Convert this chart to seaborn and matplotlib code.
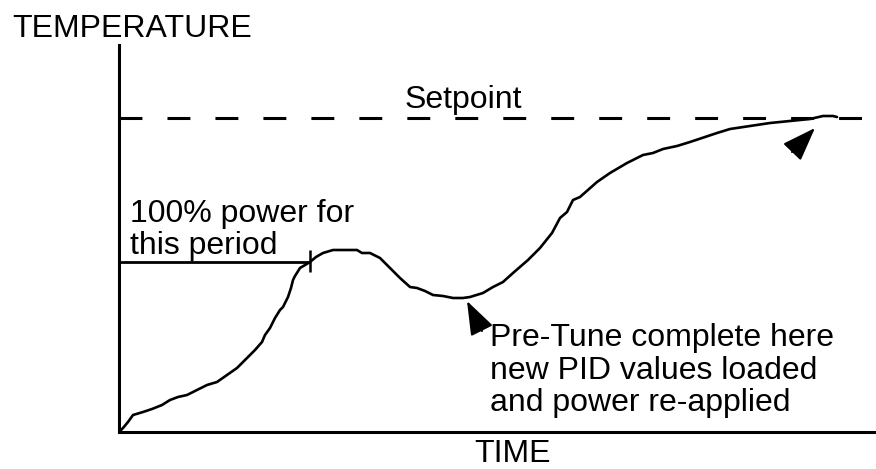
import matplotlib
matplotlib.use('Agg')
import matplotlib.pyplot as plt
import seaborn as sns
import pandas as pd

sns.set_style('white')
plt.rcParams['font.family'] = ['Liberation Sans', 'DejaVu Sans']
plt.rcParams['text.color'] = 'black'

# hand drawn temperature curve
time = [0, 4, 9, 14, 24, 33, 43, 51, 59, 68, 78, 88, 98, 108, 118, 128, 136, 143, 146, 151,
        156, 161, 164, 169, 172, 174, 176, 181, 186, 191, 197, 204, 214, 226, 238, 243, 251, 261, 271, 281,
        291, 298, 306, 314, 324, 334, 344, 351, 364, 374, 384, 394, 409, 421, 433, 441, 448, 454, 461, 478,
        491, 508, 524, 534, 544, 558, 571, 598, 611, 631, 651, 671, 691, 704, 714, 718]
temp = [0, 4, 10, 17, 20, 23, 27, 32, 35, 37, 42, 47, 50, 57, 64, 74, 82, 90, 97, 104,
        114, 122, 125, 135, 144, 152, 156, 164, 167, 170, 175, 179, 182, 182, 182, 179, 179, 174, 164, 154,
        145, 144, 141, 137, 136, 134, 134, 135, 139, 145, 150, 159, 172, 184, 199, 214, 220, 232, 235, 250,
        259, 269, 277, 279, 283, 286, 290, 299, 303, 306, 309, 311, 313, 316, 316, 315]

setpoint = 314
setpoint_end = 743
power_level = 170
power_end = 191

df = pd.DataFrame({'time': time, 'temp': temp})

fig = plt.figure(figsize=(8.76, 4.69), dpi=100)
ax = fig.add_axes([119/876, 37/469, 757/876, 387/469])
ax.set_xlim(0, 757)
ax.set_ylim(0, 387)

sns.lineplot(data=df, x='time', y='temp', sort=False, estimator=None,
             color='black', lw=1.9, ax=ax)

ax.hlines(setpoint, 0, setpoint_end, colors='black', lw=2.2,
          linestyles=(0, (7.5, 8.2)))
ax.hlines(power_level, 0, power_end, colors='black', lw=2.0)
ax.vlines(power_end, power_level - 10, power_level + 12, colors='black', lw=1.8)

arrow = dict(arrowstyle='-|>,head_length=1.05,head_width=0.38', color='black',
             lw=1.5, mutation_scale=20, shrinkA=0, shrinkB=0)
ax.annotate('', xy=(348, 131), xytext=(363, 101), arrowprops=arrow)
ax.annotate('', xy=(696, 304), xytext=(673, 280), arrowprops=arrow)

fs = 23
# va='baseline' on multi-line text lines up the last line
ax.text(-107, 395, 'TEMPERATURE', fontsize=fs, va='baseline')
ax.text(286, 324, 'Setpoint', fontsize=fs, va='baseline')
ax.text(11, 178, '100% power for\nthis period', fontsize=fs, va='baseline', linespacing=1.1)
ax.text(371, 21, 'Pre-Tune complete here\nnew PID values loaded\nand power re-applied',
        fontsize=fs, va='baseline', linespacing=1.1)
ax.text(355, -30, 'TIME', fontsize=fs, va='baseline')

sns.despine(ax=ax)
for side in ['left', 'bottom']:
    ax.spines[side].set_linewidth(2.2)
    ax.spines[side].set_color('black')
ax.set_xticks([])
ax.set_yticks([])
ax.set_xlabel('')
ax.set_ylabel('')

fig.savefig('out.png', dpi=100)
